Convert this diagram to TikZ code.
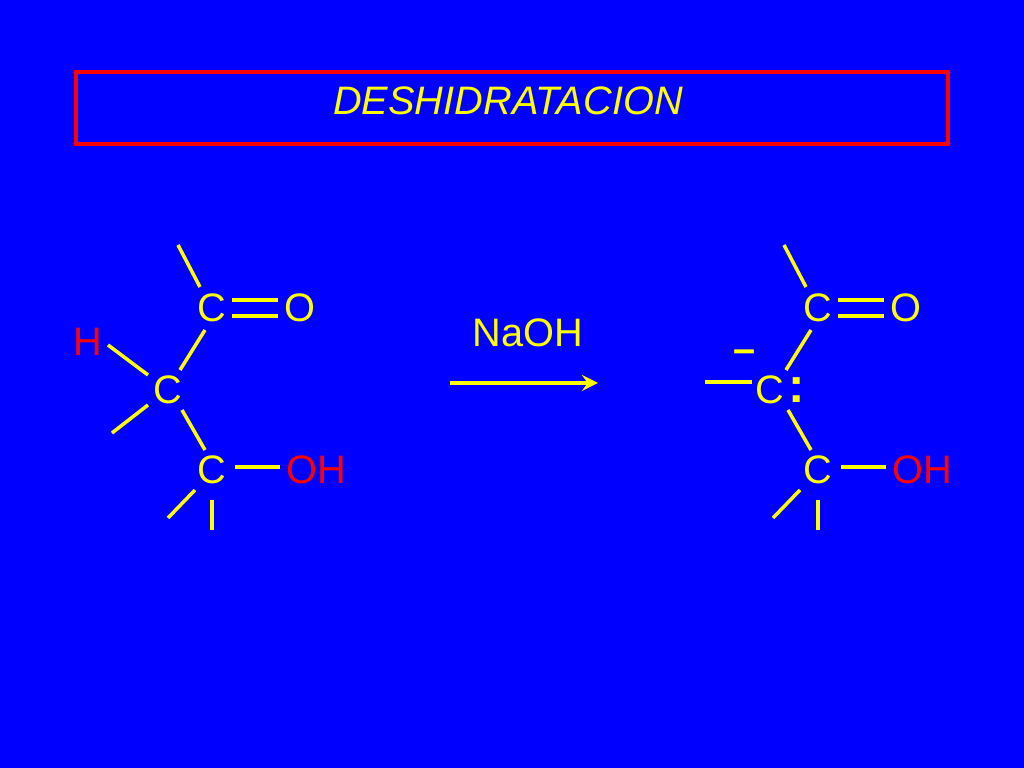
\documentclass[tikz,border=0pt]{standalone}
\usepackage{fontspec}
\setmainfont{Liberation Sans}
\definecolor{bg}{RGB}{0,0,255}
\definecolor{yel}{RGB}{255,255,0}
\definecolor{rd}{RGB}{255,0,0}
\begin{document}
\begin{tikzpicture}[x=0.01cm,y=-0.01cm,
  atom/.style={text=yel,font=\fontsize{11.3}{11.3}\selectfont,inner sep=0pt},
  ratom/.style={text=rd,font=\fontsize{11.3}{11.3}\selectfont,inner sep=0pt},
  bond/.style={draw=yel,line width=1pt}]
\fill[bg] (0,0) rectangle (1024,768);
\useasboundingbox (0,0) rectangle (1024,768);
\node[draw=rd,line width=1.1pt,minimum width=8.72cm,minimum height=0.72cm] (box) at (512,108) {};
\node[atom,font=\itshape\fontsize{11.3}{11.3}\selectfont] (title) at (508,101) {DESHIDRATACION};
% left molecule
\node[atom] (c1) at (212,308) {C};
\node[atom] (o1) at (300,308) {O};
\node[ratom] (h1) at (88,342) {H};
\node[atom] (c2) at (168,390) {C};
\node[atom] (c3) at (212,470) {C};
\node[ratom] (oh1) at (316,470) {OH};
\draw[bond] (232,300) -- (278,300) (232,316) -- (278,316);
\draw[bond] (178,245) -- (200,287);
\draw[bond] (108,345) -- (148,375);
\draw[bond] (180,370) -- (205,330);
\draw[bond] (112,433) -- (148,405);
\draw[bond] (182,410) -- (205,450);
\draw[bond] (235,467) -- (280,467);
\draw[bond] (168,518) -- (195,490);
\draw[bond] (212,500) -- (212,530);
% arrow
\node[atom] (naoh) at (528,333) {NaOH};
\coordinate (a1) at (450,383); \coordinate (a2) at (598,383);
\draw[draw=yel,line width=1pt,-stealth] (a1) -- (a2);
% right molecule
\node[atom] (c4) at (818,308) {C};
\node[atom] (o2) at (906,308) {O};
\node[atom] (c5) at (770,390) {C};
\node[atom] (minus) at (745,356) {\textbf{--}};
\node[atom,font=\fontsize{14}{14}\selectfont] (colon) at (797,390) {\textbf{:}};
\node[atom] (c6) at (818,470) {C};
\node[ratom] (oh2) at (922,470) {OH};
\draw[bond] (838,300) -- (884,300) (838,316) -- (884,316);
\draw[bond] (784,245) -- (806,287);
\draw[bond] (705,382) -- (752,382);
\draw[bond] (786,370) -- (811,330);
\draw[bond] (788,410) -- (811,450);
\draw[bond] (841,467) -- (886,467);
\draw[bond] (773,518) -- (800,490);
\draw[bond] (818,500) -- (818,530);
\end{tikzpicture}
\end{document}
